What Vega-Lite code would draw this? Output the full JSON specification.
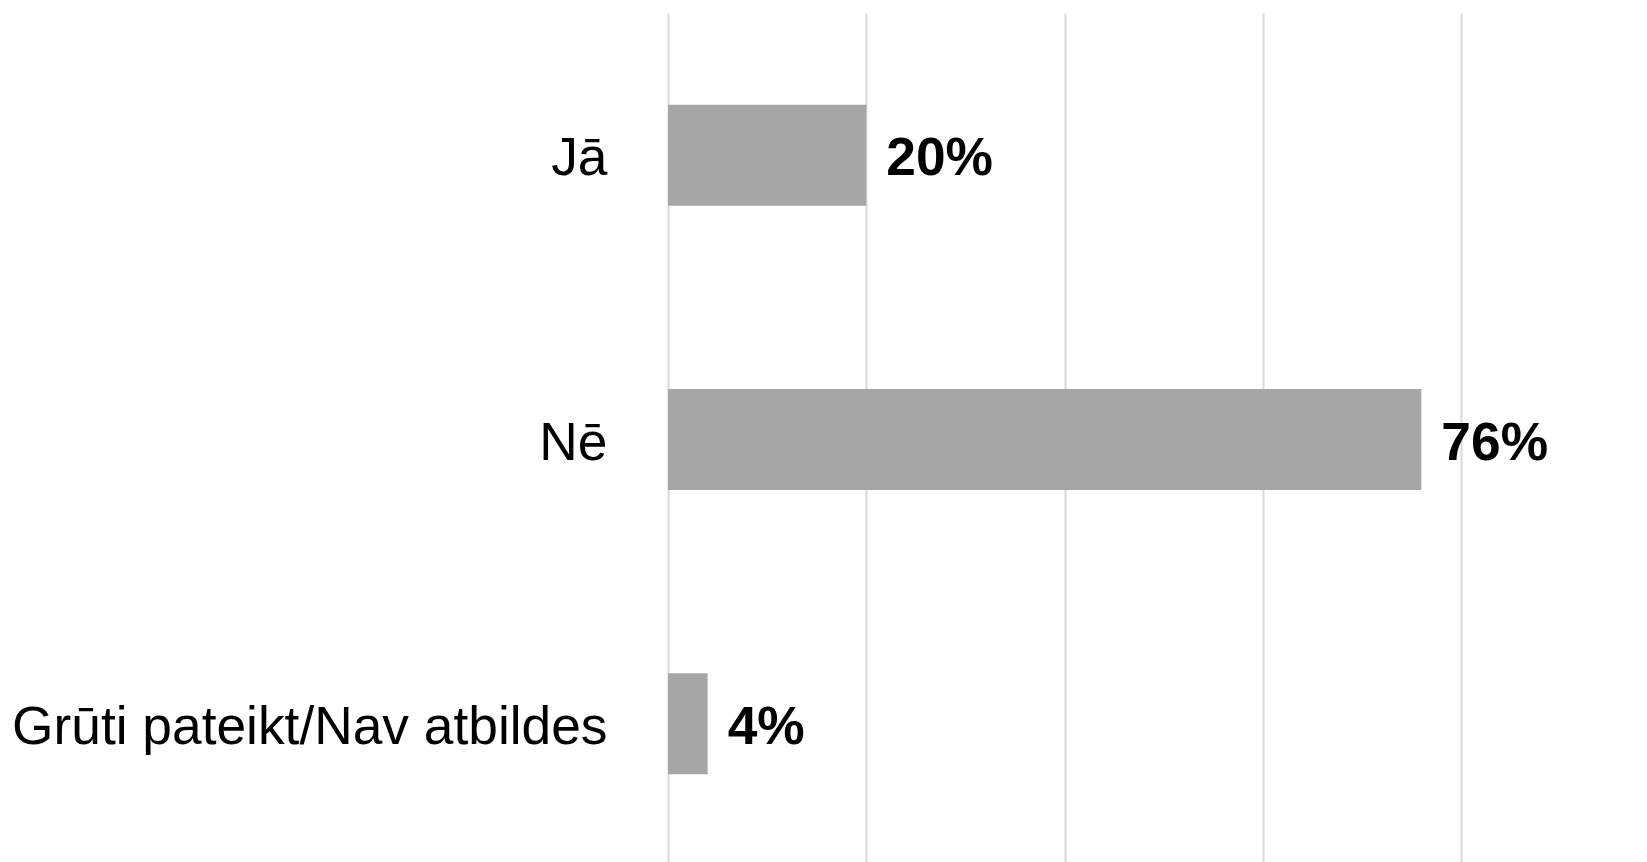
{
  "$schema": "https://vega.github.io/schema/vega-lite/v6.json",
  "autosize": {"type": "none"},
  "padding": {"left": 668, "top": 13, "right": 186, "bottom": 0},
  "width": 793,
  "height": 853,
  "background": "white",
  "config": {"view": {"stroke": null}, "font": "Liberation Sans"},
  "data": {
    "values": [
      {"atbilde": "Jā", "vertiba": 0.20, "teksts": "20%"},
      {"atbilde": "Nē", "vertiba": 0.76, "teksts": "76%"},
      {"atbilde": "Grūti pateikt/Nav atbildes", "vertiba": 0.04, "teksts": "4%"}
    ]
  },
  "encoding": {
    "y": {
      "field": "atbilde",
      "type": "nominal",
      "sort": null,
      "scale": {"paddingInner": 0.645, "paddingOuter": 0.3225},
      "axis": {
        "title": null,
        "domain": false,
        "ticks": false,
        "tickSize": 0,
        "labelPadding": 61,
        "labelOffset": 4,
        "labelFont": "Liberation Sans",
        "labelFontSize": 53.3,
        "labelColor": "#000000",
        "labelLimit": 0
      }
    },
    "x": {
      "field": "vertiba",
      "type": "quantitative",
      "scale": {"domain": [0, 0.8], "nice": false},
      "axis": {
        "title": null,
        "values": [0, 0.2, 0.4, 0.6, 0.8],
        "labels": false,
        "ticks": false,
        "domain": false,
        "grid": true,
        "gridColor": "#d9d9d9",
        "gridWidth": 2
      }
    }
  },
  "layer": [
    {"mark": {"type": "bar", "color": "#a6a6a6"}},
    {
      "mark": {
        "type": "text",
        "align": "left",
        "baseline": "middle",
        "dx": 20,
        "dy": 4,
        "font": "Liberation Sans",
        "fontSize": 53.3,
        "fontWeight": "bold",
        "color": "#000000"
      },
      "encoding": {"text": {"field": "teksts"}}
    }
  ]
}
